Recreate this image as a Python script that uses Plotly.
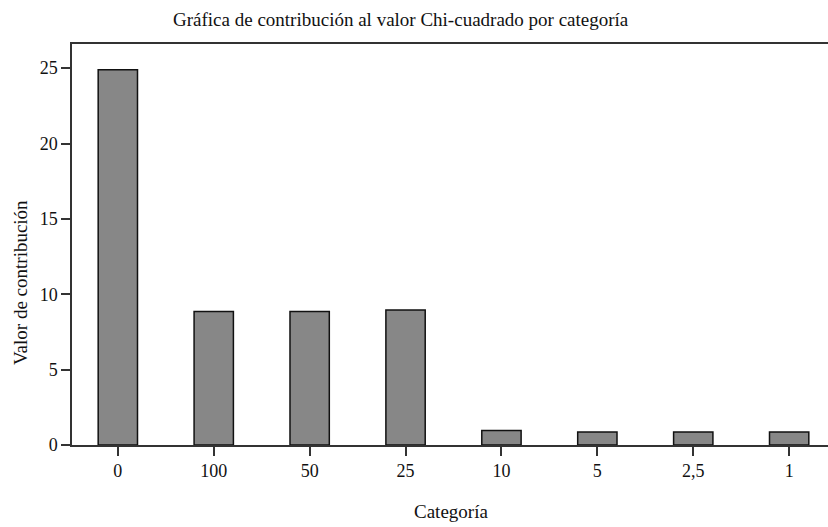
import plotly.graph_objects as go

categories = ["0", "100", "50", "25", "10", "5", "2,5", "1"]
values = [24.9, 8.85, 8.85, 8.95, 0.97, 0.86, 0.86, 0.86]
y_ticks = [0, 5, 10, 15, 20, 25]

FONT = "Liberation Serif"

fig = go.Figure(go.Bar(
    x=list(range(len(categories))),
    y=values,
    width=0.41,
    marker=dict(color="#878787", line=dict(color="#111111", width=1.5)),
))

fig.update_layout(
    width=828, height=527,
    margin=dict(l=72, r=0, t=44, b=82),
    paper_bgcolor="white", plot_bgcolor="white",
    showlegend=False,
    font=dict(family=FONT, size=18, color="#111111"),
    xaxis=dict(
        range=[-0.478, 7.405],
        tickmode="array", tickvals=list(range(len(categories))), ticktext=categories,
        ticks="outside", ticklen=9, tickwidth=1.5, tickcolor="#333333",
        showline=True, linecolor="#333333", linewidth=1.5, mirror=True,
        showgrid=False, zeroline=False,
        tickfont=dict(family=FONT, size=18, color="#111111"),
    ),
    yaxis=dict(
        range=[0, 26.6],
        tickmode="array", tickvals=y_ticks, ticktext=[str(v) for v in y_ticks],
        ticks="outside", ticklen=9, tickwidth=1.5, tickcolor="#333333",
        showline=True, linecolor="#333333", linewidth=1.5,
        showgrid=False, zeroline=False,
        tickfont=dict(family=FONT, size=18, color="#111111"),
    ),
    annotations=[
        dict(text="Gráfica de contribución al valor Chi-cuadrado por categoría",
             xref="paper", yref="paper", x=(401 - 72) / 756, y=1 + (44 - 20) / 401,
             xanchor="center", yanchor="middle", showarrow=False,
             font=dict(family=FONT, size=19, color="#111111")),
        dict(text="Categoría",
             xref="paper", yref="paper", x=(451 - 72) / 756, y=-(512 - 445) / 401,
             xanchor="center", yanchor="middle", showarrow=False,
             font=dict(family=FONT, size=19, color="#111111")),
        dict(text="Valor de contribución", textangle=-90,
             xref="paper", yref="paper", x=-(72 - 20) / 756, y=(445 - 283) / 401,
             xanchor="center", yanchor="middle", showarrow=False,
             font=dict(family=FONT, size=19, color="#111111")),
    ],
)

fig.write_html("out.html", config={"displayModeBar": False},
               post_script="document.body.style.margin='0';document.body.style.overflow='hidden';")
